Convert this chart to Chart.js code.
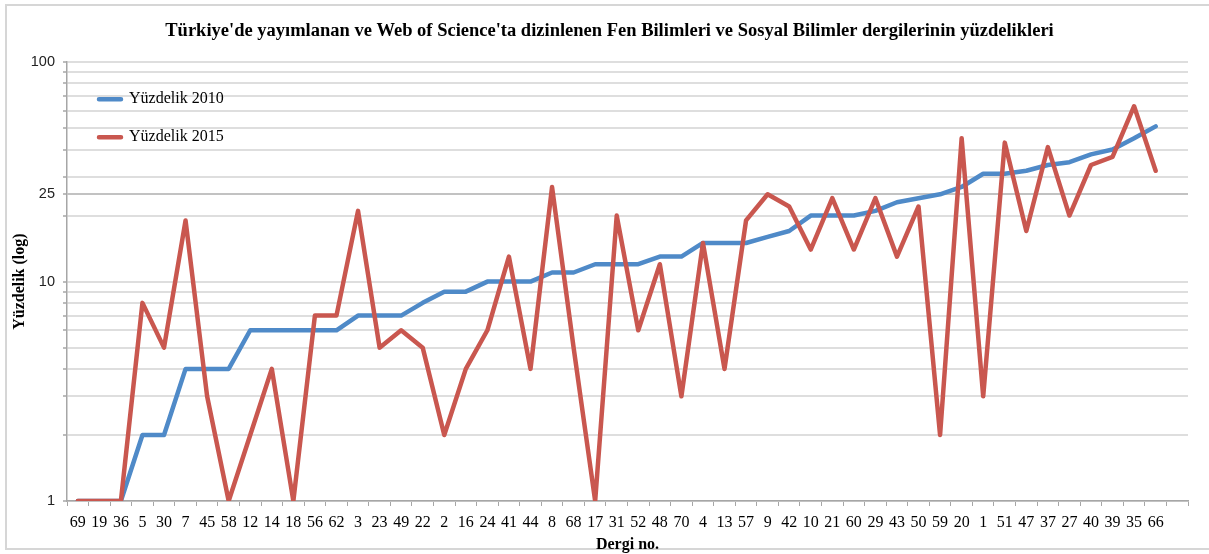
<!DOCTYPE html>
<html>
<head>
<meta charset="utf-8">
<script src="https://cdn.jsdelivr.net/npm/chart.js@4/dist/chart.umd.min.js"></script>
<style>
  html, body { margin: 0; padding: 0; background: #ffffff; }
  #wrap { position: relative; width: 1209px; height: 554px; overflow: hidden; }
  #frame { position: absolute; left: 5px; top: 4px; width: 1300px; height: 546px; border: 2px solid #d6d6d6; box-sizing: border-box; }
  #c { position: absolute; left: 0; top: 0; }
</style>
</head>
<body>
<div id="wrap">
  <div id="frame"></div>
  <canvas id="c" width="1209" height="554"></canvas>
</div>
<script>
// Journal numbers (x categories); the last slot is empty in the original
const journals = ['69','19','36','5','30','7','45','58','12','14','18','56','62','3','23','49','22','2','16','24',
  '41','44','8','68','17','31','52','48','70','4','13','57','9','42','10','21','60','29','43','50',
  '59','20','1','51','47','37','27','40','39','35','66',''];

// Percentile 2010
const pct2010 = [1,1,1,2,2,4,4,4,6,6,6,6,6,7,7,7,8,9,9,10,
  10,10,11,11,12,12,12,13,13,15,15,15,16,17,20,20,20,21,23,24,
  25,27,31,31,32,34,35,38,40,45,51,null];

// Percentile 2015
const pct2015 = [1,1,1,8,5,19,3,1,2,4,1,7,7,21,5,6,5,2,4,6,
  13,4,27,5,1,20,6,12,3,15,4,19,25,22,14,24,14,24,13,22,
  2,45,3,43,17,41,20,34,37,63,32,null];

// Y axis: gridline values and labelled values
const yGridValues = [1,2,3,4,5,6,7,8,9,10,20,25,30,40,50,60,70,80,90,100];
const yLabelValues = [1,10,25,100];

const seriesNames = ['Yüzdelik 2010','Yüzdelik 2015'];
const titleText = "Türkiye'de yayımlanan ve Web of Science'ta dizinlenen Fen Bilimleri ve Sosyal Bilimler dergilerinin yüzdelikleri";

const BLUE = '#4F8AC8';
const RED = '#C9574F';
const AXIS = '#a6a6a6';

const legendShift = {
  id: 'legendShift',
  afterLayout(chart) {
    const lg = chart.legend, ca = chart.chartArea;
    if (!lg) return;
    lg.left = ca.left + 10;
    lg.top = ca.top + 7;
    lg.right = ca.right;
    lg.bottom = ca.bottom;
  }
};

new Chart(document.getElementById('c'), {
  type: 'line',
  data: {
    labels: journals,
    datasets: [
      { label: seriesNames[0], data: pct2010, borderColor: BLUE, backgroundColor: BLUE,
        borderWidth: 4.5, pointRadius: 0, tension: 0, borderJoinStyle: 'round', borderCapStyle: 'round', order: 1 },
      { label: seriesNames[1], data: pct2015, borderColor: RED, backgroundColor: RED,
        borderWidth: 4.5, pointRadius: 0, tension: 0, borderJoinStyle: 'round', borderCapStyle: 'round', order: 0 }
    ]
  },
  plugins: [legendShift],
  options: {
    responsive: false,
    animation: false,
    events: [],
    layout: { padding: { left: 10, right: 0, top: 0, bottom: 0 } },
    plugins: {
      title: {
        display: true, text: titleText, color: '#000',
        font: { family: 'Liberation Serif', size: 18.5, weight: 'bold' },
        padding: { top: 20, bottom: 20 }
      },
      legend: {
        display: true, position: 'chartArea', align: 'start',
        labels: {
          boxWidth: 22, boxHeight: 0, padding: 22, color: '#000',
          font: { family: 'Liberation Serif', size: 16 },
          sort: (a, b) => a.datasetIndex - b.datasetIndex
        }
      },
      tooltip: { enabled: false }
    },
    scales: {
      x: {
        type: 'category', offset: true,
        grid: { display: true, drawOnChartArea: false, drawTicks: true, tickLength: 5, tickColor: AXIS, offset: true },
        border: { display: true, color: AXIS, width: 1.5 },
        ticks: { autoSkip: false, maxRotation: 0, minRotation: 0, padding: 7, color: '#000',
          font: { family: 'Liberation Serif', size: 16 } },
        title: { display: true, text: 'Dergi no.', color: '#000',
          font: { family: 'Liberation Serif', size: 16, weight: 'bold' }, padding: { top: 0, bottom: 0 } },
        afterFit(s) { s.height = 53; }
      },
      y: {
        type: 'logarithmic', min: 1, max: 100,
        afterBuildTicks(s) { s.ticks = yGridValues.map(v => ({ value: v })); },
        ticks: { autoSkip: false, padding: 8, color: '#222',
          font: { family: 'Liberation Sans', size: 14.5 },
          callback: (v) => yLabelValues.includes(v) ? String(v) : '' },
        grid: { color: (ctx) => (ctx.tick && ctx.tick.value === 25) ? '#c2c2c2' : '#dedede',
          lineWidth: 2, drawTicks: true, tickLength: 4, tickColor: AXIS, tickWidth: 1.5 },
        border: { display: true, color: AXIS, width: 1.5 },
        title: { display: true, text: 'Yüzdelik (log)', color: '#000',
          font: { family: 'Liberation Serif', size: 16, weight: 'bold' }, padding: { top: 0, bottom: 0 } },
        afterFit(s) { s.width = 57; }
      },
      yRight: {
        type: 'linear', position: 'right', display: true,
        grid: { display: false }, ticks: { display: false }, border: { display: false },
        afterFit(s) { s.width = 21; }
      }
    }
  }
});
</script>
</body>
</html>
